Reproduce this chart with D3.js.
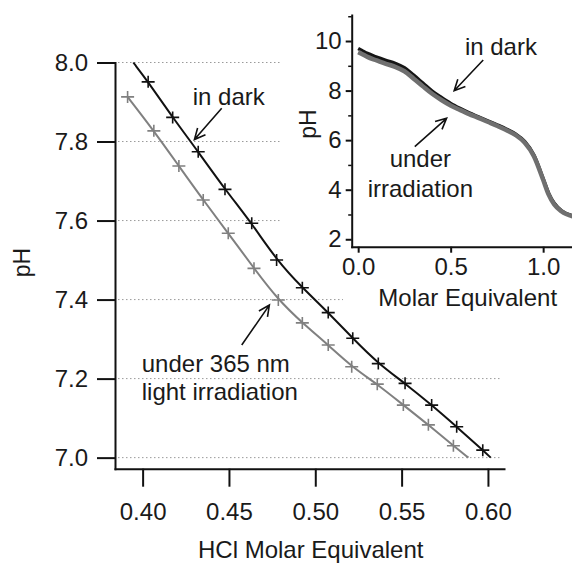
<!DOCTYPE html>
<html>
<head>
<meta charset="utf-8">
<script src="https://cdn.jsdelivr.net/npm/d3@7"></script>
<style>
  html, body { margin: 0; padding: 0; background: #fff; }
  svg { display: block; }
  text { font-family: "Liberation Sans", Arial, sans-serif; fill: #1a1a1a; }
</style>
</head>
<body>
<svg id="chart"></svg>
<script>
// main plot: titration points (HCl molar equivalent, pH)
const darkX  = [0.4032, 0.4174, 0.4322, 0.4477, 0.4632, 0.4776, 0.4925, 0.5075, 0.5217, 0.5365, 0.5520, 0.5674, 0.5819, 0.5970];
const darkPH = [7.951, 7.861, 7.774, 7.679, 7.593, 7.500, 7.430, 7.367, 7.302, 7.238, 7.188, 7.133, 7.078, 7.019];
const darkStart = [0.3946, 8.0];
const darkEnd   = [0.6016, 7.0];

const grayX  = [0.3913, 0.4065, 0.4210, 0.4351, 0.4496, 0.4645, 0.4786, 0.4925, 0.5075, 0.5211, 0.5359, 0.5510, 0.5655, 0.5800];
const grayPH = [7.913, 7.827, 7.738, 7.652, 7.568, 7.479, 7.399, 7.341, 7.285, 7.230, 7.186, 7.133, 7.083, 7.030];
const grayEnd = [0.5887, 7.0];

const mainXTicks = [0.40, 0.45, 0.50, 0.55, 0.60];
const mainYTicks = [7.0, 7.2, 7.4, 7.6, 7.8, 8.0];

// inset: full titration curve
const insetX = [0.00, 0.02, 0.05, 0.10, 0.15, 0.20, 0.25, 0.30, 0.35, 0.40, 0.45, 0.50, 0.55, 0.60, 0.65, 0.70, 0.75, 0.80, 0.85, 0.90, 0.95, 1.00, 1.03, 1.06, 1.10, 1.16];
const insetDark = [9.70, 9.62, 9.50, 9.35, 9.22, 9.10, 8.92, 8.62, 8.30, 7.98, 7.72, 7.48, 7.28, 7.10, 6.94, 6.78, 6.62, 6.45, 6.25, 5.95, 5.40, 4.45, 3.85, 3.45, 3.15, 2.95];
const insetGray = [9.55, 9.48, 9.36, 9.22, 9.08, 8.96, 8.78, 8.48, 8.17, 7.87, 7.62, 7.40, 7.22, 7.05, 6.90, 6.74, 6.58, 6.41, 6.21, 5.90, 5.35, 4.40, 3.80, 3.40, 3.12, 2.92];
const insetXTicks = [0.0, 0.5, 1.0];
const insetYTicks = [2, 4, 6, 8, 10];
const insetYMinor = [3, 5, 7, 9, 11];

const W = 572, H = 563;
const FONT = 24;

const svg = d3.select('#chart').attr('width', W).attr('height', H);

const x = d3.scaleLinear().domain([0.384, 0.6093]).range([115, 504]);
const y = d3.scaleLinear().domain([6.972, 8.0]).range([468.7, 62.5]);

const xi = d3.scaleLinear().domain([-0.035, 1.156]).range([351.7, 572]);
const yi = d3.scaleLinear().domain([1.7, 11.05]).range([246.7, 15]);

// dotted grid
svg.append('g').selectAll('line')
  .data(mainYTicks)
  .enter().append('line')
  .attr('x1', 118).attr('x2', 502)
  .attr('y1', d => y(d)).attr('y2', d => y(d))
  .attr('stroke', '#9a9a9a')
  .attr('stroke-width', 1)
  .attr('stroke-dasharray', '1.5,2.5');

// inset background hides grid behind it
svg.append('rect').attr('x', 280).attr('y', 0).attr('width', W - 280).attr('height', 240).attr('fill', '#fff');
svg.append('rect').attr('x', 343).attr('y', 240).attr('width', W - 343).attr('height', 75).attr('fill', '#fff');

function styleAxis(g, size){
  g.attr('font-size', size).attr('font-family', '"Liberation Sans", Arial, sans-serif');
  g.select('.domain').attr('stroke', '#111').attr('stroke-width', 2).attr('stroke-linecap', 'square');
  g.selectAll('.tick line').attr('stroke', '#111').attr('stroke-width', 2);
  g.selectAll('.tick text').attr('fill', '#1a1a1a');
}

// main axes
const gy = svg.append('g')
  .attr('transform', 'translate(115,0)')
  .call(d3.axisLeft(y).tickValues(mainYTicks).tickFormat(d3.format('.1f'))
    .tickSize(18).tickPadding(9).tickSizeOuter(0));
styleAxis(gy, FONT);

const gx = svg.append('g')
  .attr('transform', 'translate(0,468.7)')
  .call(d3.axisBottom(x).tickValues(mainXTicks).tickFormat(d3.format('.2f'))
    .tickSize(18).tickPadding(16).tickSizeOuter(0));
styleAxis(gx, FONT);

// main curves (smoothed through the measured points)
const line = d3.line().x(d => x(d[0])).y(d => y(d[1])).curve(d3.curveBasis);
const darkPts = darkX.map((v, i) => [v, darkPH[i]]);
const grayPts = grayX.map((v, i) => [v, grayPH[i]]);

svg.append('path')
  .datum([darkStart].concat(darkPts, [darkEnd]))
  .attr('d', line)
  .attr('fill', 'none').attr('stroke', '#111').attr('stroke-width', 2);

svg.append('path')
  .datum(grayPts.concat([grayEnd]))
  .attr('d', line)
  .attr('fill', 'none').attr('stroke', '#808080').attr('stroke-width', 2);

function plusMarks(pts, color){
  svg.append('g').selectAll('path')
    .data(pts)
    .enter().append('path')
    .attr('transform', d => 'translate(' + x(d[0]) + ',' + y(d[1]) + ')')
    .attr('d', 'M-6.5,0H6.5M0,-6V6')
    .attr('stroke', color).attr('stroke-width', 1.6).attr('fill', 'none');
}
plusMarks(grayPts, '#808080');
plusMarks(darkPts, '#111');

// arrow with open head, from (x1,y1) to (x2,y2) in px
function arrow(x1, y1, x2, y2){
  const a = Math.atan2(y2 - y1, x2 - x1);
  const len = 12, spread = 0.45;
  const p1 = [x2 - len * Math.cos(a - spread), y2 - len * Math.sin(a - spread)];
  const p2 = [x2 - len * Math.cos(a + spread), y2 - len * Math.sin(a + spread)];
  svg.append('path')
    .attr('d', 'M' + x1 + ',' + y1 + 'L' + x2 + ',' + y2 +
      'M' + p1[0] + ',' + p1[1] + 'L' + x2 + ',' + y2 + 'L' + p2[0] + ',' + p2[1])
    .attr('fill', 'none').attr('stroke', '#111').attr('stroke-width', 1.6);
}

function label(txt, px, py, anchor, size){
  return svg.append('text')
    .attr('x', px).attr('y', py)
    .attr('text-anchor', anchor || 'start')
    .attr('font-size', size || FONT)
    .text(txt);
}

// main annotations (placed in data units)
label('in dark', x(0.4290), y(7.892));
arrow(x(0.4458), y(7.884), x(0.4300), y(7.805));
label('under 365 nm', x(0.3995), y(7.216));
label('light irradiation', x(0.3995), y(7.146));
arrow(x(0.4574), y(7.285), x(0.4734), y(7.386));

// main titles
label('HCl Molar Equivalent', 198, 557.5);
svg.append('text')
  .attr('transform', 'translate(30,262.5) rotate(-90)')
  .attr('text-anchor', 'middle')
  .attr('font-size', 23)
  .text('pH');

// inset curves
const iline = d3.line().x(d => xi(d[0])).y(d => yi(d[1])).curve(d3.curveMonotoneX);
svg.append('path')
  .datum(insetX.map((v, i) => [v, insetDark[i]]))
  .attr('d', iline)
  .attr('fill', 'none').attr('stroke', '#151515').attr('stroke-width', 3.5)
  .attr('stroke-linejoin', 'round');
svg.append('path')
  .datum(insetX.map((v, i) => [v, insetGray[i]]))
  .attr('d', iline)
  .attr('fill', 'none').attr('stroke', '#6f6f6f').attr('stroke-width', 4.5)
  .attr('stroke-linejoin', 'round');

// inset axes
const giy = svg.append('g')
  .attr('transform', 'translate(351.7,0)')
  .call(d3.axisLeft(yi).tickValues(insetYTicks).tickFormat(d3.format('d'))
    .tickSize(6).tickPadding(4).tickSizeOuter(0));
styleAxis(giy, FONT);

const giyMinor = svg.append('g')
  .attr('transform', 'translate(351.7,0)')
  .call(d3.axisLeft(yi).tickValues(insetYMinor).tickFormat('').tickSize(3.5));
giyMinor.select('.domain').remove();
giyMinor.selectAll('.tick line').attr('stroke', '#111').attr('stroke-width', 1.5);

const gix = svg.append('g')
  .attr('transform', 'translate(0,246.7)')
  .call(d3.axisBottom(xi).tickValues(insetXTicks).tickFormat(d3.format('.1f'))
    .tickSize(6).tickPadding(5.6).tickSizeOuter(0));
styleAxis(gix, FONT);

// inset annotations
label('in dark', xi(0.577), yi(9.435));
arrow(xi(0.676), yi(9.234), xi(0.519), yi(7.995));
label('under', xi(0.336), yi(4.93), 'middle');
label('irradiation', xi(0.336), yi(3.72), 'middle');
arrow(xi(0.306), yi(5.736), xi(0.478), yi(6.882));

// inset titles
label('Molar Equivalent', 378.3, 306);
svg.append('text')
  .attr('transform', 'translate(316,124) rotate(-90)')
  .attr('text-anchor', 'middle')
  .attr('font-size', 23)
  .text('pH');
</script>
</body>
</html>
